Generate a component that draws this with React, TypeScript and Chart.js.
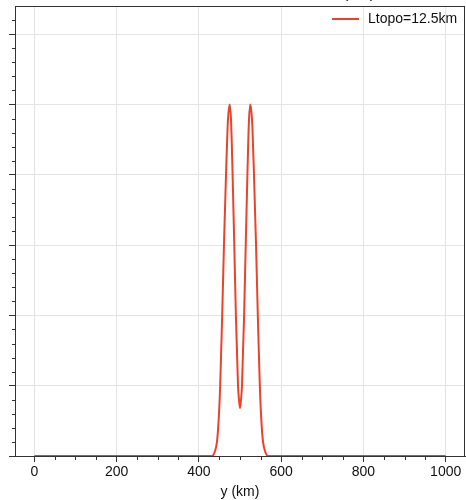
import React, { useEffect, useRef } from "react";
import { Chart, registerables } from "chart.js";

Chart.register(...registerables);

// Data
const yKm = [0, 432, 438, 444, 448, 451.8, 456.7, 461, 466, 470, 472, 475, 478, 480, 482, 486.1, 490, 495.2, 497.5, 500, 502.5, 504.8, 510, 513.9, 518, 520, 522, 525, 528, 530, 534, 539, 543.3, 548.2, 552, 556, 562, 568, 1000];
const topo = [0, 0, 0.05, 0.2, 0.5, 1.0, 2.0, 3.0, 4.0, 4.7, 4.88, 5.0, 4.8, 4.45, 4.0, 3.0, 2.0, 1.0, 0.8, 0.68, 0.8, 1.0, 2.0, 3.0, 4.0, 4.45, 4.8, 5.0, 4.88, 4.7, 4.0, 3.0, 2.0, 1.0, 0.5, 0.2, 0.05, 0, 0];
const xMajorTicks = [0, 200, 400, 600, 800, 1000];
const xMinorTicks = [50, 100, 150, 250, 300, 350, 450, 500, 550, 650, 700, 750, 850, 900, 950];
const yMajorTicks = [0, 1, 2, 3, 4, 5, 6];
const yMinorTicks = [0.2, 0.4, 0.6, 0.8, 1.2, 1.4, 1.6, 1.8, 2.2, 2.4, 2.6, 2.8, 3.2, 3.4, 3.6, 3.8, 4.2, 4.4, 4.6, 4.8, 5.2, 5.4, 5.6, 5.8, 6.2];
const seriesLabel = "Ltopo=12.5km";
const xTitle = "y (km)";
const topTitle = "(km)";

const FONT = "'Liberation Sans', Arial, Helvetica, sans-serif";
const LINE_COLOR = "#e6442b";
const AXIS_COLOR = "#333333";

const framePlugin = {
  id: "frameAndExtras",
  afterDraw(chart: any) {
    const { ctx, chartArea } = chart;
    const xs = chart.scales.x;
    const ys = chart.scales.y;
    ctx.save();
    // frame
    ctx.strokeStyle = AXIS_COLOR;
    ctx.lineWidth = 1;
    ctx.strokeRect(
      Math.round(chartArea.left) + 0.5,
      Math.round(chartArea.top) + 0.5,
      Math.round(chartArea.right - chartArea.left) - 1,
      Math.round(chartArea.bottom - chartArea.top)
    );
    // minor ticks
    ctx.beginPath();
    const b = Math.round(chartArea.bottom) + 0.5;
    xMinorTicks.forEach((v) => {
      const px = Math.round(xs.getPixelForValue(v)) + 0.5;
      ctx.moveTo(px, b);
      ctx.lineTo(px, b + 3.5);
    });
    const l = Math.round(chartArea.left) + 0.5;
    yMinorTicks.forEach((v) => {
      const py = Math.round(ys.getPixelForValue(v)) + 0.5;
      ctx.moveTo(l, py);
      ctx.lineTo(l - 3.5, py);
    });
    ctx.stroke();
    // legend
    ctx.strokeStyle = LINE_COLOR;
    ctx.lineWidth = 2;
    ctx.beginPath();
    ctx.moveTo(332, 19);
    ctx.lineTo(359, 19);
    ctx.stroke();
    ctx.fillStyle = "#111";
    ctx.font = `14px ${FONT}`;
    ctx.textBaseline = "middle";
    ctx.textAlign = "left";
    ctx.fillText(seriesLabel, 368, 19.5);
    // clipped top title
    ctx.font = `16px ${FONT}`;
    ctx.textAlign = "center";
    ctx.textBaseline = "alphabetic";
    ctx.fillText(topTitle, 359, -2);
    ctx.restore();
  },
};

export default function App() {
  const ref = useRef<HTMLCanvasElement | null>(null);
  useEffect(() => {
    document.body.style.margin = "0";
    const canvas = ref.current!;
    const chart = new Chart(canvas, {
      type: "line",
      data: {
        datasets: [
          {
            label: seriesLabel,
            data: yKm.map((x, i) => ({ x, y: topo[i] })),
            borderColor: LINE_COLOR,
            backgroundColor: LINE_COLOR,
            borderWidth: 2,
            pointRadius: 0,
            cubicInterpolationMode: "monotone",
            fill: false,
          },
        ],
      },
      options: {
        responsive: false,
        animation: false,
        layout: { padding: { top: 6, right: 1, left: 0, bottom: 0 } },
        plugins: {
          legend: { display: false },
          tooltip: { enabled: false },
          title: { display: false },
        },
        scales: {
          x: {
            type: "linear",
            min: -47,
            max: 1047,
            afterBuildTicks: (s: any) => {
              s.ticks = xMajorTicks.map((v) => ({ value: v }));
            },
            afterFit: (s: any) => {
              s.height = 44;
            },
            grid: {
              color: "#e4e4e4",
              lineWidth: 1,
              tickColor: AXIS_COLOR,
              tickLength: 6,
              drawTicks: true,
            },
            border: { color: AXIS_COLOR, width: 1 },
            ticks: {
              color: "#111",
              font: { family: FONT, size: 14 },
              padding: 2,
              maxRotation: 0,
              callback: (v: any) => String(v),
            },
            title: {
              display: true,
              text: xTitle,
              color: "#111",
              font: { family: FONT, size: 14 },
              padding: { top: 0, bottom: -1 },
            },
          },
          y: {
            type: "linear",
            min: 0,
            max: 6.4,
            afterBuildTicks: (s: any) => {
              s.ticks = yMajorTicks.map((v) => ({ value: v }));
            },
            afterFit: (s: any) => {
              s.width = 15;
            },
            grid: {
              color: "#e4e4e4",
              lineWidth: 1,
              tickColor: AXIS_COLOR,
              tickLength: 6,
              drawTicks: true,
            },
            border: { color: AXIS_COLOR, width: 1 },
            ticks: { display: false },
          },
        },
      },
      plugins: [framePlugin],
    } as any);
    return () => chart.destroy();
  }, []);
  return (
    <div style={{ width: 466, height: 500 }}>
      <canvas ref={ref} width={466} height={500} style={{ display: "block" }} />
    </div>
  );
}
